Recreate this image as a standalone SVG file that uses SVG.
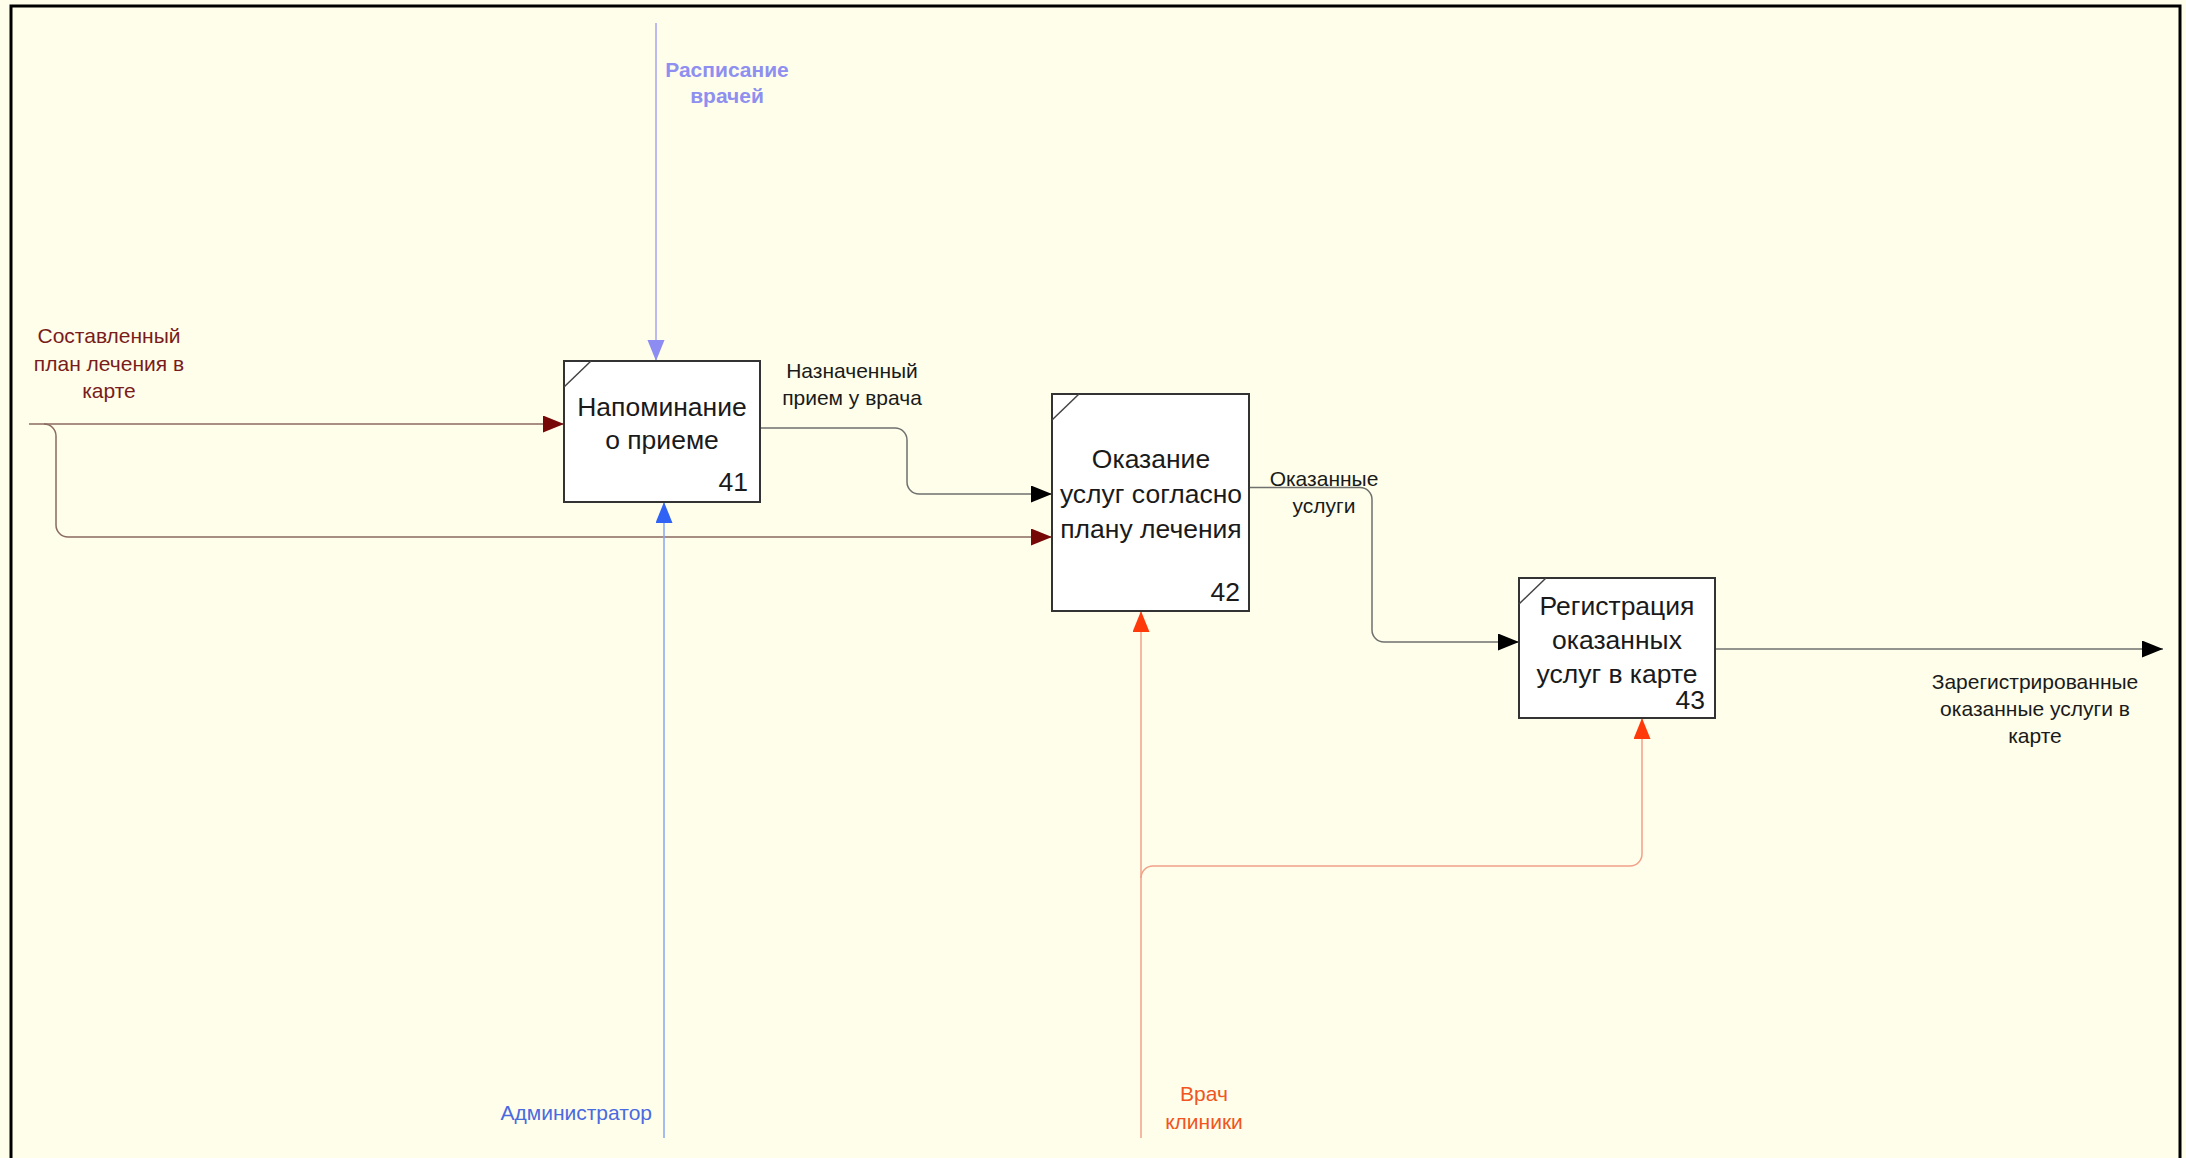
<svg xmlns="http://www.w3.org/2000/svg" width="2186" height="1158" viewBox="0 0 2186 1158">
<style>
text{font-family:"Liberation Sans",Arial,sans-serif}
.box{fill:#ffffff;stroke:#333333;stroke-width:2}
.corner{stroke:#444444;stroke-width:1.5;fill:none}
.bt{font-size:26.5px;fill:#1a1a1a;text-anchor:middle}
.num{font-size:26.5px;fill:#1a1a1a;text-anchor:end}
.lbl{font-size:21px;text-anchor:middle}
.c{fill:none;stroke-width:1.5}
</style>
<defs>
<marker id="aRed" markerUnits="userSpaceOnUse" markerWidth="22" markerHeight="18" refX="21" refY="8.5" orient="auto"><path d="M0,0 L21,8.5 L0,17 z" fill="#760808"/></marker>
<marker id="aBlk" markerUnits="userSpaceOnUse" markerWidth="22" markerHeight="18" refX="21" refY="8.5" orient="auto"><path d="M0,0 L21,8.5 L0,17 z" fill="#000000"/></marker>
<marker id="aSch" markerUnits="userSpaceOnUse" markerWidth="22" markerHeight="18" refX="21" refY="8.5" orient="auto"><path d="M0,0 L21,8.5 L0,17 z" fill="#8c8cf2"/></marker>
<marker id="aAdm" markerUnits="userSpaceOnUse" markerWidth="22" markerHeight="18" refX="21" refY="8.5" orient="auto"><path d="M0,0 L21,8.5 L0,17 z" fill="#2f62f5"/></marker>
<marker id="aDoc" markerUnits="userSpaceOnUse" markerWidth="22" markerHeight="18" refX="21" refY="8.5" orient="auto"><path d="M0,0 L21,8.5 L0,17 z" fill="#ff3a0a"/></marker>
</defs>
<rect x="0" y="0" width="2186" height="1158" fill="#fefeea"/>
<rect x="11" y="6" width="2169" height="1170" fill="none" stroke="#000000" stroke-width="3"/>

<g id="connectors">
<path class="c" d="M29,424 H564" stroke="#8a6a62" marker-end="url(#aRed)"/>
<path class="c" d="M44,424 a12,12 0 0 1 12,12 V525 a12,12 0 0 0 12,12 H1052" stroke="#8a6a62" marker-end="url(#aRed)"/>
<path class="c" d="M656,23 V361" stroke="#a4a4f2" marker-end="url(#aSch)"/>
<path class="c" d="M664,1138 V502" stroke="#86a6f2" marker-end="url(#aAdm)"/>
<path class="c" d="M760,428 H895 a12,12 0 0 1 12,12 V482 a12,12 0 0 0 12,12 H1052" stroke="#707070" marker-end="url(#aBlk)"/>
<path class="c" d="M1141,1138 V611" stroke="#f2a088" marker-end="url(#aDoc)"/>
<path class="c" d="M1141,878 a12,12 0 0 1 12,-12 H1630 a12,12 0 0 0 12,-12 V718" stroke="#f2a088" marker-end="url(#aDoc)"/>
<path class="c" d="M1249,487.5 H1360 a12,12 0 0 1 12,12 V630 a12,12 0 0 0 12,12 H1519" stroke="#707070" marker-end="url(#aBlk)"/>
<path class="c" d="M1715,649 H2163" stroke="#707070" marker-end="url(#aBlk)"/>

<text class="lbl" fill="#7a1c1c"><tspan x="109" y="343">Составленный</tspan><tspan x="109" y="371">план лечения в</tspan><tspan x="109" y="398">карте</tspan></text>
<text class="lbl" fill="#8f8ff0" font-weight="bold"><tspan x="727" y="77">Расписание</tspan><tspan x="727" y="103">врачей</tspan></text>
<text class="lbl" fill="#1a1a1a"><tspan x="852" y="378">Назначенный</tspan><tspan x="852" y="405">прием у врача</tspan></text>
<text class="lbl" fill="#1a1a1a"><tspan x="1324" y="486">Оказанные</tspan><tspan x="1324" y="513">услуги</tspan></text>
<text class="lbl" fill="#1a1a1a"><tspan x="2035" y="689">Зарегистрированные</tspan><tspan x="2035" y="716">оказанные услуги в</tspan><tspan x="2035" y="743">карте</tspan></text>
<text class="lbl" fill="#4a6ae0" style="text-anchor:end" x="652" y="1120">Администратор</text>
<text class="lbl" fill="#f05522"><tspan x="1204" y="1101">Врач</tspan><tspan x="1204" y="1129">клиники</tspan></text>
</g>

<g id="node41">
<rect class="box" x="564" y="361" width="196" height="141"/>
<path class="corner" d="M564,387 L591,361"/>
<text class="bt"><tspan x="662" y="416">Напоминание</tspan><tspan x="662" y="449">о приеме</tspan></text>
<text class="num" x="748" y="491">41</text>
</g>

<g id="node42">
<rect class="box" x="1052" y="394" width="197" height="217"/>
<path class="corner" d="M1052,420 L1079,394"/>
<text class="bt"><tspan x="1151" y="468">Оказание</tspan><tspan x="1151" y="503">услуг согласно</tspan><tspan x="1151" y="538">плану лечения</tspan></text>
<text class="num" x="1240" y="601">42</text>
</g>

<g id="node43">
<rect class="box" x="1519" y="578" width="196" height="140"/>
<path class="corner" d="M1519,604 L1546,578"/>
<text class="bt"><tspan x="1617" y="615">Регистрация</tspan><tspan x="1617" y="649">оказанных</tspan><tspan x="1617" y="683">услуг в карте</tspan></text>
<text class="num" x="1705" y="709">43</text>
</g>
</svg>
